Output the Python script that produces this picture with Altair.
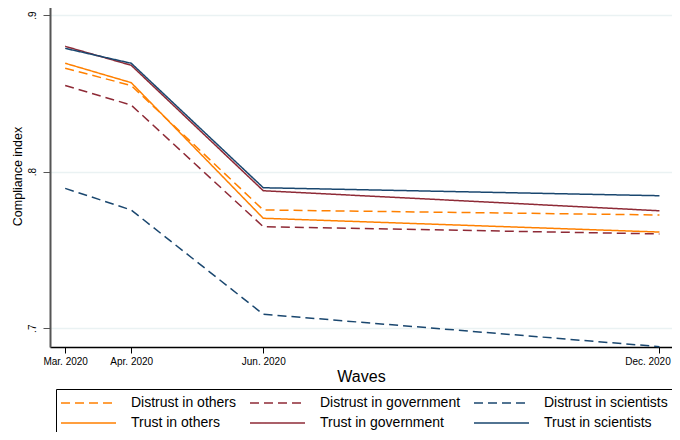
import altair as alt
import pandas as pd

months = [0, 1, 3, 9]
wave_labels = ["Mar. 2020", "Apr. 2020", "Jun. 2020", "Dec. 2020"]

series_names = [
    "Distrust in others", "Distrust in government", "Distrust in scientists",
    "Trust in others", "Trust in government", "Trust in scientists",
]
distrust_others = [0.866, 0.855, 0.7755, 0.7723]
distrust_gov = [0.855, 0.8425, 0.7648, 0.7602]
distrust_sci = [0.7893, 0.7755, 0.7089, 0.6882]
trust_others = [0.8692, 0.8568, 0.7702, 0.7614]
trust_gov = [0.8800, 0.8679, 0.7878, 0.7750]
trust_sci = [0.8787, 0.8692, 0.7897, 0.7846]
series_values = [distrust_others, distrust_gov, distrust_sci,
                 trust_others, trust_gov, trust_sci]

colors = ["#ff8000", "#8e2a36", "#1a476f", "#ff8000", "#8e2a36", "#1a476f"]
dashes = [[9, 5], [9, 5], [9, 5], [1, 0], [1, 0], [1, 0]]

rows = []
for name, vals in zip(series_names, series_values):
    for m, v in zip(months, vals):
        rows.append({"series": name, "month": m, "value": v})
df = pd.DataFrame(rows)

label_expr = "[" + ",".join(
    "'" + (wave_labels[months.index(i)] if i in months else "") + "'"
    for i in range(10)) + "][datum.value]"

FONT = "Liberation Sans"


def make_legend():
    return alt.Legend(
        title=None, orient="none", legendX=6, legendY=384, columns=3,
        direction="horizontal",
        clipHeight=20, symbolType="stroke", symbolSize=3025,
        symbolStrokeWidth=1.5, labelFont=FONT, labelFontSize=14,
        labelOffset=14, labelColor="black", columnPadding=12, rowPadding=0,
        padding=4, strokeColor="black", fillColor="white", labelLimit=300,
    )


chart = alt.Chart(df).mark_line(strokeWidth=1.5, clip=False).encode(
    x=alt.X("month:Q",
            scale=alt.Scale(domain=[-0.23, 9.19], nice=False, zero=False),
            axis=alt.Axis(values=months, labelExpr=label_expr, title="Waves",
                          grid=False, tickSize=6, labelPadding=3,
                          labelOffset={"condition": {"test": f"datum.value == {months[-1]}", "value": -12}, "value": 0},
                          labelFontSize=10, titleFontSize=16, titlePadding=2,
                          domainColor="black", domainWidth=1.5,
                          tickColor="black", tickWidth=1,
                          labelColor="black", titleColor="black",
                          titleFontWeight="normal", labelFont=FONT, titleFont=FONT)),
    y=alt.Y("value:Q",
            scale=alt.Scale(domain=[0.688, 0.9064], nice=False, zero=False),
            axis=alt.Axis(values=[0.7, 0.8, 0.9],
                          labelExpr="'.' + format(datum.value*10, 'd')",
                          title="Compliance index", grid=True,
                          gridColor="#eaf2f3", gridWidth=1.5,
                          tickSize=7, labelAngle=270, labelAlign="center",
                          labelBaseline="bottom", labelPadding=6,
                          labelFontSize=10, titleFontSize=12.5, titlePadding=3,
                          domainColor="#555555", domainWidth=2,
                          tickColor="#555555", tickWidth=1,
                          labelColor="black", titleColor="black",
                          titleFontWeight="normal", labelFont=FONT, titleFont=FONT)),
    color=alt.Color("series:N",
                    scale=alt.Scale(domain=series_names, range=colors),
                    legend=make_legend()),
    strokeDash=alt.StrokeDash("series:N",
                              scale=alt.Scale(domain=series_names, range=dashes),
                              legend=make_legend()),
).properties(
    width=622, height=342,
    autosize=alt.AutoSizeParams(type="none"),
    padding={"left": 42, "top": -3, "right": 0, "bottom": 85},
).configure_view(stroke=None).configure(background="white")

chart.save("out.html", embed_options={"renderer": "svg", "actions": False})
